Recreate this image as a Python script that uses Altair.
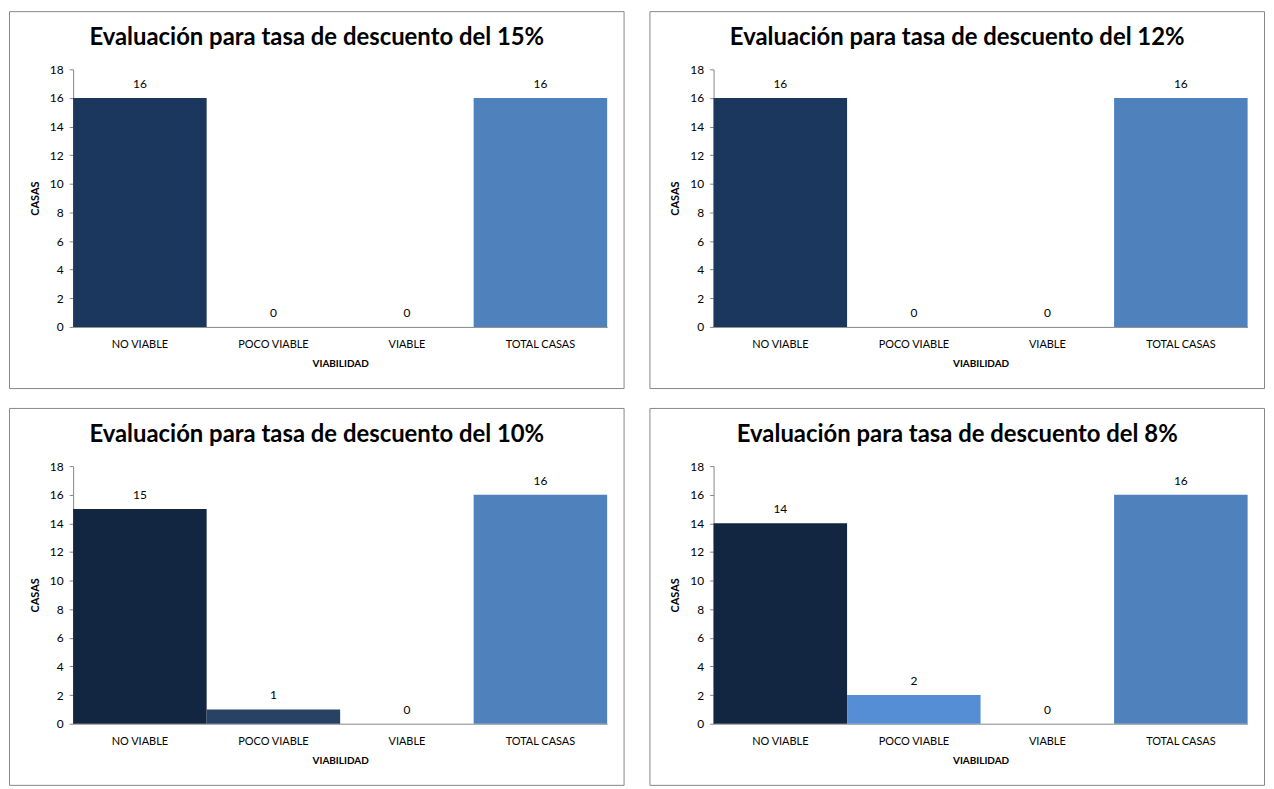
import altair as alt
import pandas as pd

categories = ["NO VIABLE", "POCO VIABLE", "VIABLE", "TOTAL CASAS"]
titles = [
    "Evaluación para tasa de descuento del 15%",
    "Evaluación para tasa de descuento del 12%",
    "Evaluación para tasa de descuento del 10%",
    "Evaluación para tasa de descuento del 8%",
]
values_15 = [16, 0, 0, 16]
values_12 = [16, 0, 0, 16]
values_10 = [15, 1, 0, 16]
values_8 = [14, 2, 0, 16]
y_ticks = [0, 2, 4, 6, 8, 10, 12, 14, 16, 18]

colors_15 = ["#1B375D", "#1B375D", "#1B375D", "#4F81BD"]
colors_12 = ["#1B375D", "#1B375D", "#1B375D", "#4F81BD"]
colors_10 = ["#132641", "#274264", "#274264", "#4F81BD"]
colors_8 = ["#132641", "#558ED5", "#558ED5", "#4F81BD"]

FONT = "Lato"
PW, PH = 537, 259
BOX_L, BOX_T, BOX_R, BOX_B = 64, 58, 17, 62


def panel(title, vals, colors):
    df = pd.DataFrame({"VIABILIDAD": categories, "CASAS": vals})
    base = alt.Chart(df)
    x = alt.X(
        "VIABILIDAD:N",
        sort=categories,
        scale=alt.Scale(paddingInner=0, paddingOuter=0),
        axis=alt.Axis(
            title="VIABILIDAD",
            labelAngle=0,
            ticks=False,
            labelPadding=12,
            labelFontSize=11,
            titlePadding=9,
            titleFontSize=10,
        ),
    )
    y = alt.Y(
        "CASAS:Q",
        scale=alt.Scale(domain=[0, 18], nice=False),
        axis=alt.Axis(
            values=y_ticks,
            title="CASAS",
            grid=False,
            tickSize=4,
            labelPadding=6,
            labelFontSize=12,
            labelOverlap=False,
            titlePadding=9,
            titleFontSize=11,
        ),
    )
    bars = base.mark_bar().encode(
        x=x,
        y=y,
        color=alt.Color(
            "VIABILIDAD:N",
            scale=alt.Scale(domain=categories, range=colors),
            legend=None,
        ),
    )
    labels = base.mark_text(
        baseline="bottom", dy=-7, font=FONT, fontSize=12, color="black"
    ).encode(
        x=x,
        y=y,
        text=alt.Text("CASAS:Q"),
    )
    border = (
        alt.Chart(alt.Data(values=[{"b": 1}]))
        .mark_rect(filled=False, stroke="#868686", strokeWidth=1)
        .encode(
            x=alt.value(-BOX_L),
            x2=alt.value(PW + BOX_R),
            y=alt.value(-BOX_T),
            y2=alt.value(PH + BOX_B),
        )
    )
    head = (
        alt.Chart(alt.Data(values=[{"b": 1}]))
        .mark_text(
            text=title,
            font=FONT,
            fontSize=24,
            fontWeight="bold",
            baseline="alphabetic",
            align="center",
            color="black",
        )
        .encode(x=alt.value((PW + BOX_R - BOX_L) / 2), y=alt.value(-24))
    )
    return alt.layer(border, bars, labels, head).properties(width=PW, height=PH)


p1 = panel(titles[0], values_15, colors_15)
p2 = panel(titles[1], values_12, colors_12)
p3 = panel(titles[2], values_10, colors_10)
p4 = panel(titles[3], values_8, colors_8)

row1 = alt.hconcat(p1, p2, spacing=24).resolve_scale(color="independent")
row2 = alt.hconcat(p3, p4, spacing=24).resolve_scale(color="independent")

chart = (
    alt.vconcat(row1, row2, spacing=18)
    .resolve_scale(color="independent")
    .properties(padding=0.5, background="white")
    .configure_view(stroke=None)
    .configure_axis(
        domainColor="#868686",
        tickColor="#868686",
        labelColor="black",
        titleColor="black",
        labelFont=FONT,
        titleFont=FONT,
        titleFontWeight="bold",
    )
)

chart.save("out.html", embed_options={"renderer": "svg", "actions": False})
